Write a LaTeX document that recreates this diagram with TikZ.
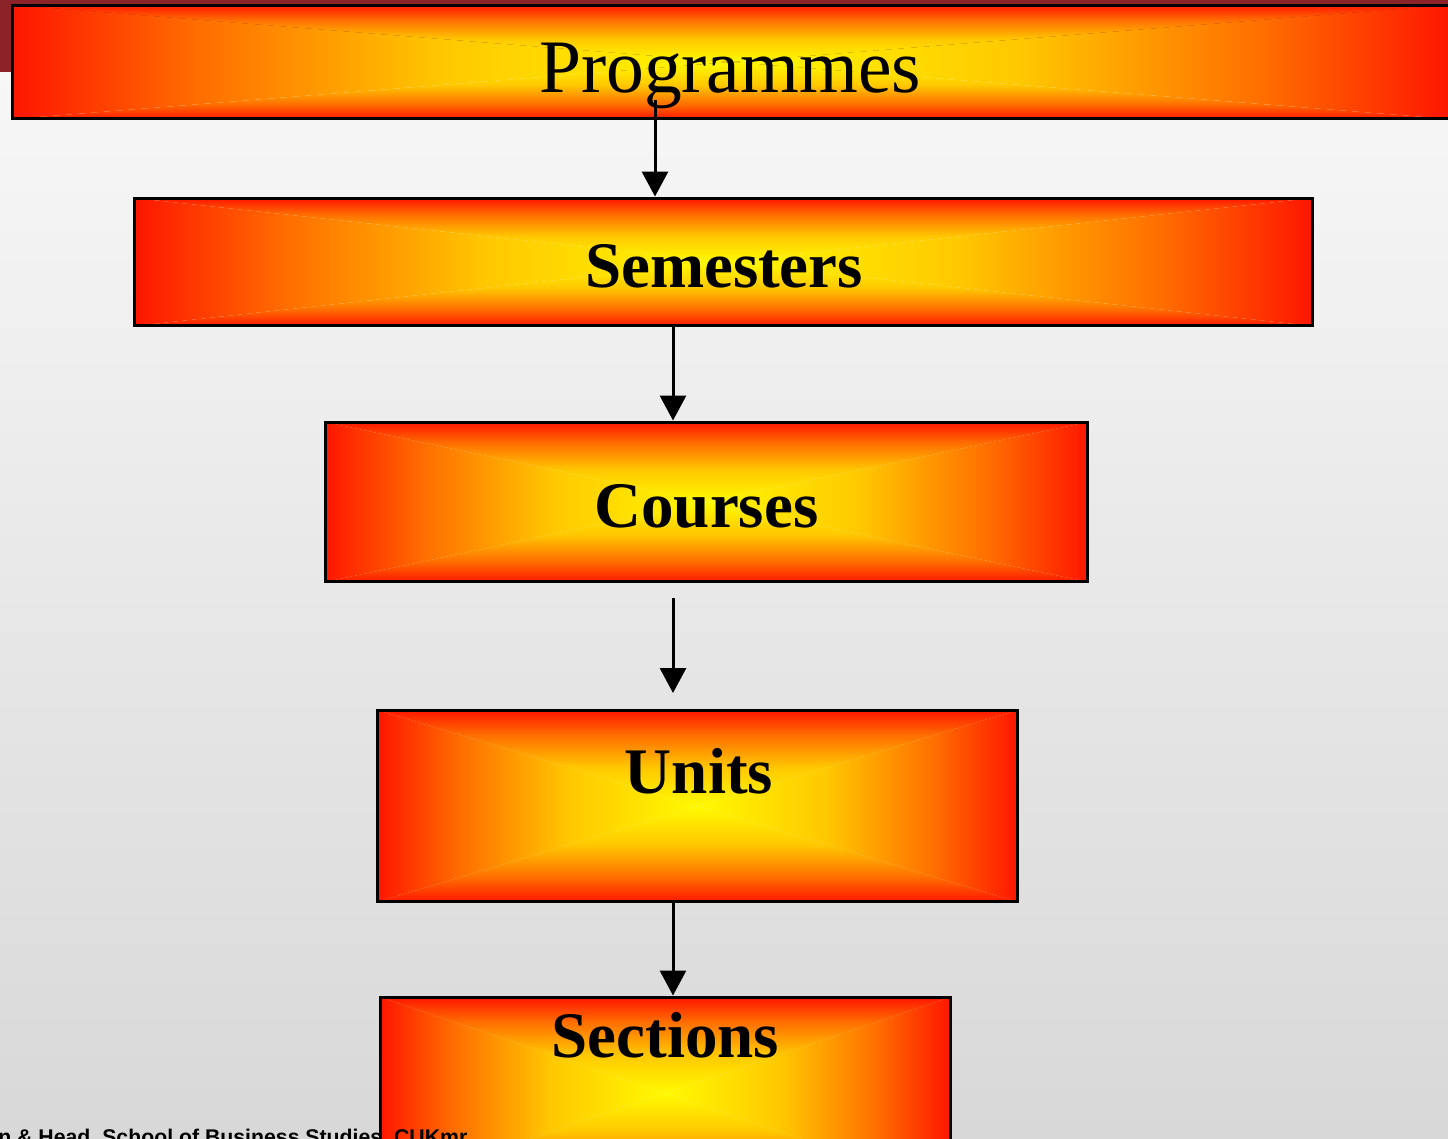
\documentclass[tikz,border=0pt]{standalone}
\usepackage{fontspec}
\setmainfont{Liberation Serif}
\newfontfamily\footfont{Liberation Sans}
\usetikzlibrary{arrows.meta,positioning}
\definecolor{bandred}{RGB}{139,35,40}
\definecolor{bgtop}{RGB}{249,249,249}
\definecolor{bgbot}{RGB}{216,216,216}
\definecolor{gred}{RGB}{255,22,0}
\definecolor{gorange}{RGB}{255,110,0}
\definecolor{gamber}{RGB}{255,200,0}
\definecolor{gyellow}{RGB}{255,250,0}
\pgfdeclareverticalshading{boxgrad}{100bp}{color(0bp)=(gyellow); color(25bp)=(gyellow); color(45bp)=(gamber); color(62bp)=(gorange); color(75bp)=(gred); color(100bp)=(gred)}

\begin{document}
\begin{tikzpicture}[x=0.02cm,y=-0.02cm,
    gbox/.style={rectangle, draw=black, line width=0.06cm, inner sep=0pt,
      path picture={
        \path (path picture bounding box.center);
        \shade[shading=boxgrad, shading angle=90] (path picture bounding box.north west) -- (path picture bounding box.center) -- (path picture bounding box.south west) -- cycle;
        \shade[shading=boxgrad, shading angle=270] (path picture bounding box.north east) -- (path picture bounding box.center) -- (path picture bounding box.south east) -- cycle;
        \shade[shading=boxgrad, shading angle=0] (path picture bounding box.north west) -- (path picture bounding box.center) -- (path picture bounding box.north east) -- cycle;
        \shade[shading=boxgrad, shading angle=180] (path picture bounding box.south west) -- (path picture bounding box.center) -- (path picture bounding box.south east) -- cycle;
      }},
    ttl/.style={anchor=base, inner sep=0pt, font=\bfseries\fontsize{37}{42}\selectfont},
    arr/.style={-{Triangle[width=0.52cm,length=0.5cm]}, line width=0.06cm}]
  % background
  \useasboundingbox (0,0) rectangle (1448,1139);
  \shade[top color=bgtop, bottom color=bgbot] (0,0) rectangle (1448,1139);
  \fill[bandred] (0,0) rectangle (1448,72);

  % boxes
  \node[gbox, minimum width=28.76cm, minimum height=2.28cm] (prog) at (731,62) {};
  \node[gbox, minimum width=23.58cm, minimum height=2.56cm] (sem) at (723.5,262) {};
  \node[gbox, minimum width=15.26cm, minimum height=3.2cm] (cour) at (706.5,502) {};
  \node[gbox, minimum width=12.82cm, minimum height=3.84cm] (unit) at (697.5,806) {};
  \node[gbox, minimum width=11.42cm, minimum height=3.84cm] (sect) at (665.5,1093) {};

  \node[anchor=base, inner sep=0pt, font=\fontsize{43}{48}\selectfont] (progT) at (730,92) {Programmes};
  \node[ttl] (semT) at (724,287) {Semesters};
  \node[ttl] (courT) at (706.5,527) {Courses};
  \node[ttl] (unitT) at (699,793) {Units};
  \node[ttl] (sectT) at (665.5,1057) {Sections};

  % arrows
  \coordinate (col) at (673,0);
  \coordinate (p1) at (655,100);
  \draw[arr] (p1) -- (p1 |- sem.north);
  \draw[arr] (sem.south -| col) -- (cour.north -| col);
  \coordinate (c1) at (673,598);
  \coordinate (c2) at (673,693);
  \draw[arr] (c1) -- (c2);
  \draw[arr] (unit.south -| col) -- (sect.north -| col);

  \node[anchor=base west, inner sep=0pt, font=\footfont\bfseries\fontsize{12.1}{14}\selectfont] (foot) at (-2,1144) {n \& Head, School of Business Studies, CUKmr};
\end{tikzpicture}
\end{document}
